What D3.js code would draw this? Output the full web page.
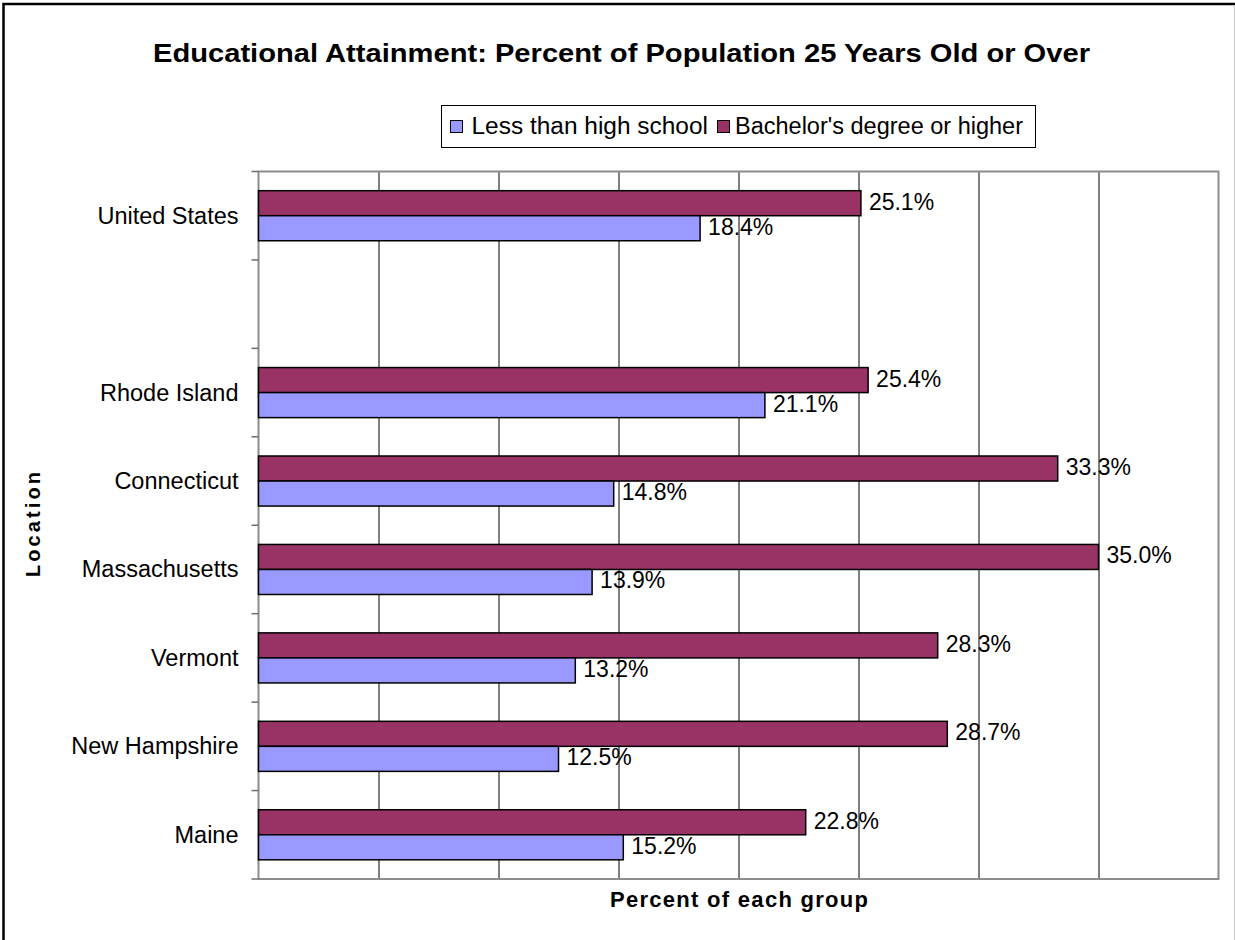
<!DOCTYPE html>
<html>
<head>
<meta charset="utf-8">
<script src="https://cdn.jsdelivr.net/npm/d3@7"></script>
<style>
  html, body { margin: 0; padding: 0; background: #fff; }
  svg { display: block; }
  text { font-family: Arial, "Liberation Sans", sans-serif; fill: #000; }
</style>
</head>
<body>
<svg id="chart" width="1235" height="940"></svg>
<script>
// ---- Data ----
const categories = ["United States", "", "Rhode Island", "Connecticut", "Massachusetts", "Vermont", "New Hampshire", "Maine"];
const seriesNames = ["Bachelor's degree or higher", "Less than high school"];
const bachelorValues = [25.1, null, 25.4, 33.3, 35.0, 28.3, 28.7, 22.8];
const lessThanHSValues = [18.4, null, 21.1, 14.8, 13.9, 13.2, 12.5, 15.2];
const xTicks = [0, 5, 10, 15, 20, 25, 30, 35, 40];
const legendNames = ["Less than high school", "Bachelor's degree or higher"];
const colors = { "Less than high school": "#9999FF", "Bachelor's degree or higher": "#993366" };

const svg = d3.select("#chart");
const W = 1235, H = 940;
const plot = { left: 258.5, right: 1218.5, top: 171.5, bottom: 879 };

// outer frame
svg.append("rect").attr("x", 3.5).attr("y", 4).attr("width", 1240).attr("height", 950)
  .attr("fill", "#fff").attr("stroke", "#000").attr("stroke-width", 2.5);
svg.append("line").attr("x1", 1234.5).attr("x2", 1234.5).attr("y1", 5).attr("y2", H)
  .attr("stroke", "#c8c8c8").attr("stroke-width", 1);

// scales
const x = d3.scaleLinear().domain([0, 40]).range([plot.left, plot.right]);
const keys = categories.map((c, i) => "k" + i);
const y = d3.scaleBand().domain(keys).range([plot.top, plot.bottom])
  .paddingInner(0.434).paddingOuter(0.217);
const ySub = d3.scaleBand().domain(seriesNames).range([0, y.bandwidth()]);

// gridlines
svg.append("g").selectAll("line").data(xTicks.filter(t => t > 0 && t < 40)).join("line")
  .attr("x1", d => x(d) + 0.5).attr("x2", d => x(d) + 0.5)
  .attr("y1", plot.top).attr("y2", plot.bottom)
  .attr("stroke", "#000").attr("stroke-width", 1);

// plot border (gray)
svg.append("rect").attr("x", plot.left).attr("y", plot.top)
  .attr("width", plot.right - plot.left).attr("height", plot.bottom - plot.top)
  .attr("fill", "none").attr("stroke", "#8c8c8c").attr("stroke-width", 2);

// left axis ticks at category boundaries
const step = y.step();
const boundaries = d3.range(categories.length + 1).map(i => plot.top + i * step);
svg.append("g").selectAll("line").data(boundaries).join("line")
  .attr("x1", plot.left - 7).attr("x2", plot.left)
  .attr("y1", d => d).attr("y2", d => d)
  .attr("stroke", "#6e6e6e").attr("stroke-width", 1.5);

// category labels
svg.append("g").selectAll("text").data(categories).join("text")
  .attr("x", 238.5)
  .attr("y", (d, i) => y(keys[i]) + y.bandwidth() / 2)
  .attr("dy", "0.34em")
  .attr("text-anchor", "end")
  .attr("font-size", 23.5)
  .text(d => d);

// bars
const rows = [];
categories.forEach((c, i) => {
  if (bachelorValues[i] != null) rows.push({ key: keys[i], series: "Bachelor's degree or higher", value: bachelorValues[i] });
  if (lessThanHSValues[i] != null) rows.push({ key: keys[i], series: "Less than high school", value: lessThanHSValues[i] });
});

svg.append("g").selectAll("rect").data(rows).join("rect")
  .attr("x", x(0))
  .attr("y", d => y(d.key) + ySub(d.series))
  .attr("width", d => x(d.value) - x(0))
  .attr("height", ySub.bandwidth())
  .attr("fill", d => colors[d.series])
  .attr("stroke", "#000").attr("stroke-width", 1.5);

// value labels
svg.append("g").selectAll("text").data(rows).join("text")
  .attr("x", d => x(d.value) + 8)
  .attr("y", d => y(d.key) + ySub(d.series) + ySub.bandwidth() / 2)
  .attr("dy", "0.28em")
  .attr("font-size", 23)
  .text(d => d.value.toFixed(1) + "%");

// title
svg.append("text").attr("x", 153).attr("y", 62)
  .attr("font-size", 26.5).attr("font-weight", "bold")
  .attr("textLength", 937).attr("lengthAdjust", "spacingAndGlyphs")
  .text("Educational Attainment: Percent of Population 25 Years Old or Over");

// legend
const lg = svg.append("g");
lg.append("rect").attr("x", 441.5).attr("y", 105.5).attr("width", 594).attr("height", 42)
  .attr("fill", "#fff").attr("stroke", "#000").attr("stroke-width", 1);
const legendLayout = [
  { sx: 450.5, tx: 471.5, len: 236.5 },
  { sx: 717.5, tx: 735, len: 288 }
];
legendNames.forEach((n, i) => {
  lg.append("rect").attr("x", legendLayout[i].sx).attr("y", 120.5).attr("width", 12).attr("height", 12)
    .attr("fill", colors[n]).attr("stroke", "#000").attr("stroke-width", 1);
  lg.append("text").attr("x", legendLayout[i].tx).attr("y", 133.5)
    .attr("font-size", 23.5)
    .attr("textLength", legendLayout[i].len).attr("lengthAdjust", "spacingAndGlyphs")
    .text(n);
});

// axis titles
svg.append("text").attr("x", 610).attr("y", 907.3)
  .attr("font-size", 22).attr("font-weight", "bold")
  .attr("textLength", 258).attr("lengthAdjust", "spacing")
  .text("Percent of each group");

svg.append("text")
  .attr("transform", `translate(40, 577) rotate(-90)`)
  .attr("font-size", 20).attr("font-weight", "bold")
  .attr("textLength", 105).attr("lengthAdjust", "spacing")
  .text("Location");
</script>
</body>
</html>
